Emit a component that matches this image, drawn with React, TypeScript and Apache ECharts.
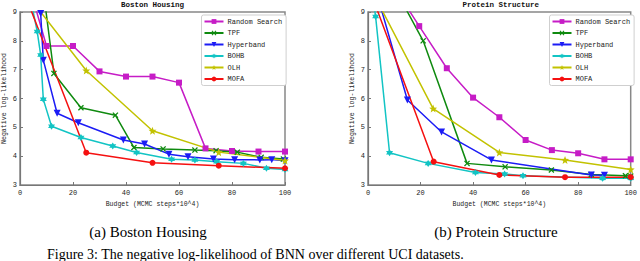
import React, { useEffect, useRef } from "react";
import * as echarts from "echarts";

// ---------- data ----------
const seriesNames = ["Random Search", "TPF", "Hyperband", "BOHB", "OLH", "MOFA"];
const xTicks = [0, 20, 40, 60, 80, 100];
const yTicks = [3, 4, 5, 6, 7, 8, 9];

// Boston Housing: [budget, negative log-likelihood]
const bostonRandomSearch = [[5, 9.42], [10, 7.82], [20, 7.82], [30, 6.94], [40, 6.76], [50, 6.76], [60, 6.55], [70, 4.27], [80, 4.18], [90, 4.16], [100, 4.16]];
const bostonTPF = [[9, 9.6], [12.8, 6.87], [23, 5.68], [36, 5.42], [43, 4.3], [54, 4.25], [66, 4.21], [74, 4.19], [82, 4.14], [91, 3.96], [99.4, 3.9]];
const bostonHyperband = [[7.8, 8.95], [8.8, 7.33], [14, 5.49], [22, 5.16], [39, 4.56], [47, 4.42], [56.2, 4.07], [63.4, 3.98], [73, 3.9], [81, 3.88], [90.5, 3.87], [95, 3.88], [100, 3.84]];
const bostonBOHB = [[4, 9.45], [6.5, 8.32], [7.8, 7.51], [8.8, 5.97], [11.9, 5.04], [23, 4.65], [35, 4.35], [44, 4.13], [57.2, 3.89], [66, 3.87], [74.2, 3.81], [84.3, 3.75], [93, 3.58], [100, 3.54]];
const bostonOLH = [[5, 9.33], [25, 6.97], [50, 4.88], [75, 4.14], [100, 3.85]];
const bostonMOFA = [[0, 10.05], [25, 4.12], [50, 3.77], [75, 3.67], [100, 3.58]];

// Protein Structure
const proteinRandomSearch = [[10, 9.85], [19.5, 8.51], [30, 7.05], [40, 6.03], [50, 5.35], [60, 4.56], [70, 4.21], [80, 4.1], [90, 3.89], [100, 3.89]];
const proteinTPF = [[10, 9.85], [21, 8.0], [37.7, 3.75], [52.2, 3.63], [69.8, 3.52], [85, 3.36], [98, 3.32], [100, 3.31]];
const proteinHyperband = [[3, 9.75], [15, 5.95], [28, 4.84], [47, 3.87], [85, 3.35], [90, 3.34]];
const proteinBOHB = [[2, 9.4], [2.9, 8.84], [8.2, 4.12], [22.9, 3.75], [40.9, 3.43], [52, 3.38], [59, 3.32], [89.3, 3.23], [100, 3.23]];
const proteinOLH = [[0, 10.0], [24.8, 5.65], [50, 4.13], [75, 3.87], [100, 3.54]];
const proteinMOFA = [[0, 9.93], [25, 3.81], [50, 3.35], [75, 3.27], [100, 3.27]];

const bostonData = [bostonRandomSearch, bostonTPF, bostonHyperband, bostonBOHB, bostonOLH, bostonMOFA];
const proteinData = [proteinRandomSearch, proteinTPF, proteinHyperband, proteinBOHB, proteinOLH, proteinMOFA];

// ---------- styles ----------
function starPath(points: number, outer: number, inner: number): string {
  const parts: string[] = [];
  for (let i = 0; i < points * 2; i++) {
    const r = i % 2 === 0 ? outer : inner;
    const a = -Math.PI / 2 + (i * Math.PI) / points;
    const px = (10 + r * Math.cos(a)).toFixed(2);
    const py = (10 + r * Math.sin(a)).toFixed(2);
    parts.push((i === 0 ? "M" : "L") + px + "," + py);
  }
  return "path://" + parts.join("") + "Z";
}
const xSymbol = "path://M0,1.5L1.5,0L5,3.5L8.5,0L10,1.5L6.5,5L10,8.5L8.5,10L5,6.5L1.5,10L0,8.5L3.5,5Z";

const colors = ["#c61cc6", "#0f8a0f", "#1c1cf5", "#12c4c4", "#c2c200", "#f51010"];
const symbols = ["rect", xSymbol, "triangle", starPath(6, 10, 5.8), starPath(5, 10, 4.2), "circle"];
const symbolSizes = [6, 6, 7, 7, 8, 6];
const symbolRotates = [0, 0, 180, 0, 0, 0];

const monoFont = "'Liberation Mono', 'DejaVu Sans Mono', monospace";

export default function App() {
  const ref = useRef<HTMLDivElement>(null);
  useEffect(() => {
    if (!ref.current) return;
    const chart = echarts.init(ref.current, undefined, { renderer: "svg" });

    const grids = [
      { left: 20, top: 12, width: 265, height: 173 },
      { left: 368, top: 12, width: 265, height: 173 },
    ];

    const makeX = (gi: number) => ({
      type: "value",
      gridIndex: gi,
      min: xTicks[0],
      max: xTicks[xTicks.length - 1],
      interval: 20,
      name: "Budget (MCMC steps*10^4)",
      nameLocation: "middle",
      nameGap: 15,
      nameTextStyle: { fontFamily: monoFont, fontSize: 6.5, color: "#222" },
      axisLine: { show: true, lineStyle: { color: "#777", width: 1.2 } },
      axisTick: { show: true, inside: true, length: 3, lineStyle: { color: "#777" } },
      axisLabel: { fontFamily: monoFont, fontSize: 7, color: "#222", margin: 4 },
      splitLine: { show: false },
    });
    const makeY = (gi: number) => ({
      type: "value",
      gridIndex: gi,
      min: yTicks[0],
      max: yTicks[yTicks.length - 1],
      interval: 1,
      name: "Negative log-likelihood",
      nameLocation: "middle",
      nameGap: 12,
      nameTextStyle: { fontFamily: monoFont, fontSize: 6.6, color: "#222" },
      axisLine: { show: true, lineStyle: { color: "#777", width: 1.2 } },
      axisTick: { show: true, inside: true, length: 3, lineStyle: { color: "#777" } },
      axisLabel: { fontFamily: monoFont, fontSize: 7, color: "#222", margin: 3 },
      splitLine: { show: false },
    });

    const makeSeries = (datasets: number[][][], gi: number) =>
      datasets.map((d, i) => ({
        type: "line",
        name: seriesNames[i],
        xAxisIndex: gi,
        yAxisIndex: gi,
        data: d,
        clip: true,
        symbol: symbols[i],
        symbolSize: symbolSizes[i],
        symbolRotate: symbolRotates[i],
        showAllSymbol: true,
        lineStyle: { color: colors[i], width: 1.5 },
        itemStyle: { color: colors[i] },
        emphasis: { disabled: true },
      }));

    const makeLegend = (left: number) => ({
      left,
      top: 15,
      orient: "vertical",
      data: seriesNames,
      itemWidth: 19,
      itemHeight: 6,
      itemGap: 4.5,
      padding: [3, 4, 3, 2],
      borderColor: "#cfcfcf",
      borderWidth: 1,
      borderRadius: 2,
      backgroundColor: "#fff",
      selectedMode: false,
      textStyle: { fontFamily: monoFont, fontSize: 7, color: "#222", padding: [0, 0, 0, -1] },
    });

    chart.setOption({
      animation: false,
      grid: grids.map((g) => ({ ...g, show: true, borderColor: "#888", borderWidth: 1.5, backgroundColor: "#fff" })),
      xAxis: [makeX(0), makeX(1)],
      yAxis: [makeY(0), makeY(1)],
      legend: [makeLegend(201.5), makeLegend(549.5)],
      series: [...makeSeries(bostonData, 0), ...makeSeries(proteinData, 1)],
      graphic: [
        { type: "text", x: 152.5, y: 5, style: { text: "Boston Housing", font: "bold 7.5px " + monoFont, fill: "#111", textAlign: "center", textVerticalAlign: "middle" } },
        { type: "text", x: 500.8, y: 5, style: { text: "Protein Structure", font: "bold 7.5px " + monoFont, fill: "#111", textAlign: "center", textVerticalAlign: "middle" } },
        { type: "text", x: 148, y: 232, style: { text: "(a) Boston Housing", font: "15px 'Liberation Serif', serif", fill: "#000", textAlign: "center", textVerticalAlign: "middle" } },
        { type: "text", x: 496, y: 232, style: { text: "(b) Protein Structure", font: "15px 'Liberation Serif', serif", fill: "#000", textAlign: "center", textVerticalAlign: "middle" } },
        { type: "text", x: 47, y: 261, style: { text: "Figure 3: The negative log-likelihood of BNN over different UCI datasets.", font: "14px 'Liberation Serif', serif", fill: "#000", textAlign: "left", textVerticalAlign: "bottom" } },
      ],
    });
    return () => chart.dispose();
  }, []);

  return <div ref={ref} style={{ position: "absolute", left: 0, top: 0, width: 640, height: 261, background: "#fff" }} />;
}
